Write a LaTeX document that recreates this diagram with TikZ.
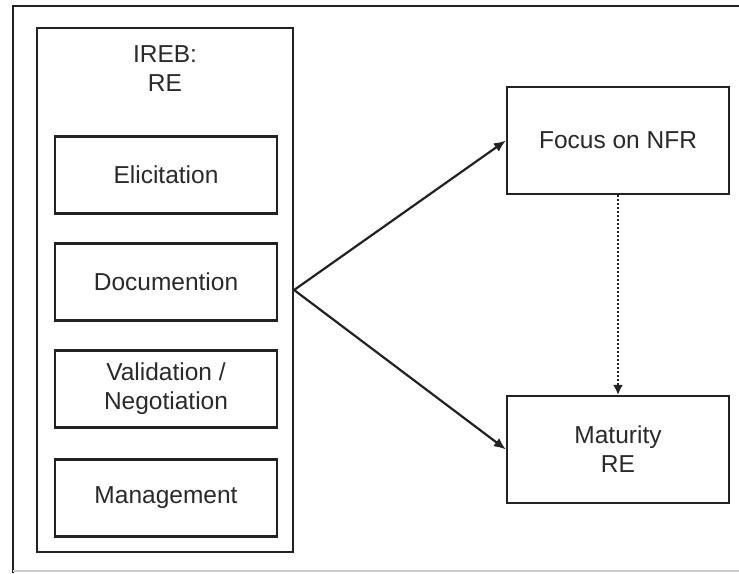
\documentclass[tikz,border=0pt]{standalone}
\usepackage{fontspec}
\setmainfont{Liberation Sans}
\usetikzlibrary{arrows.meta}
\definecolor{ink}{HTML}{222222}
\definecolor{txt}{HTML}{2A2A2A}
\tikzset{
  box/.style={draw=ink, line width=2.2pt, fill=white, text=txt, align=center,
    font=\fontsize{24.5}{29}\selectfont, inner sep=0pt},
  sub/.style={box, minimum width=222pt, minimum height=77pt},
  side/.style={box, minimum width=222pt, minimum height=107pt},
  conn/.style={draw=ink, line width=2.2pt, -{Latex[length=12pt,width=10pt]}},
  dots/.style={draw=ink, line width=2pt, dotted, -{Latex[length=10pt,width=10pt]}}
}
\begin{document}
\begin{tikzpicture}[x=1pt,y=-1pt]
\useasboundingbox (0,0) rectangle (739,573);
\fill[white] (0,0) rectangle (739,573);
% outer frame
\draw[ink, line width=2.2pt] (739,6) -- (13,6) -- (13,573);
\draw[gray!40, line width=1.2pt] (13,571) -- (739,571);
% big box
\node[box, minimum width=256pt, minimum height=524pt] (ireb) at (165,290) {};
\node[text=txt, align=center, font=\fontsize{24.5}{29}\selectfont, inner sep=0pt] (title) at (165,69) {IREB:\\RE};
\node[sub] (eli) at (166,175) {Elicitation};
\node[sub] (doc) at (166,282) {Documention};
\node[sub] (val) at (166,389) {Validation /\\Negotiation};
\node[sub] (man) at (166,498) {Management};
% right boxes
\node[side] (nfr) at (618,140.5) {Focus on NFR};
\node[side] (mat) at (618,449.5) {Maturity\\RE};
% connectors
\draw[conn] (ireb.east) -- (nfr.west);
\draw[conn] (ireb.east) -- (mat.west);
\draw[dots] (nfr.south) -- (mat.north);
\end{tikzpicture}
\end{document}
